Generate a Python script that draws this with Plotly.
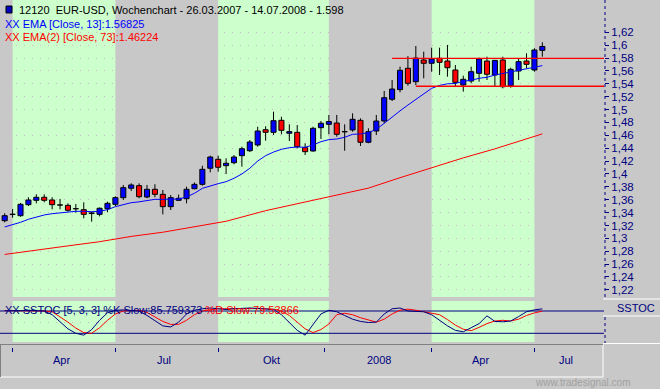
import plotly.graph_objects as go

# ---------------- data ----------------
opens = [1.3274, 1.3370, 1.3352, 1.3523, 1.3591, 1.3638, 1.3596, 1.3520, 1.3513, 1.3462,
         1.3445, 1.3395, 1.3373, 1.3460, 1.3529, 1.3632, 1.3778, 1.3818, 1.3642, 1.3762,
         1.3684, 1.3492, 1.3591, 1.3616, 1.3771, 1.3839, 1.4089, 1.4228, 1.4129, 1.4175,
         1.4284, 1.4361, 1.4450, 1.4687, 1.4647, 1.4833, 1.4632, 1.4647, 1.4408, 1.4357,
         1.4719, 1.4771, 1.4791, 1.4658, 1.4683, 1.4833, 1.4492, 1.4667, 1.4822, 1.5160,
         1.5310, 1.5641, 1.5433, 1.5770, 1.5719, 1.5796, 1.5754, 1.5615, 1.5382, 1.5444,
         1.5563, 1.5754, 1.5537, 1.5770, 1.5371, 1.5599, 1.5754, 1.5615, 1.5920]
highs = [1.3389, 1.3456, 1.3549, 1.3638, 1.3684, 1.3684, 1.3638, 1.3612, 1.3544, 1.3533,
         1.3560, 1.3414, 1.3480, 1.3570, 1.3653, 1.3829, 1.3855, 1.3855, 1.3829, 1.3840,
         1.3751, 1.3673, 1.3680, 1.3802, 1.3868, 1.4128, 1.4284, 1.4284, 1.4243, 1.4294,
         1.4423, 1.4527, 1.4734, 1.4740, 1.4967, 1.4889, 1.4771, 1.4760, 1.4476, 1.4734,
         1.4822, 1.4916, 1.4916, 1.4771, 1.4942, 1.4864, 1.4709, 1.4916, 1.5289, 1.5459,
         1.5666, 1.5830, 1.5987, 1.5899, 1.5961, 1.5961, 1.6003, 1.5692, 1.5526, 1.5666,
         1.5806, 1.5821, 1.5770, 1.5821, 1.5650, 1.5796, 1.5874, 1.5952, 1.6045]
lows = [1.3249, 1.3321, 1.3336, 1.3502, 1.3544, 1.3560, 1.3451, 1.3451, 1.3414, 1.3398,
        1.3311, 1.3259, 1.3342, 1.3405, 1.3498, 1.3596, 1.3735, 1.3622, 1.3622, 1.3638,
        1.3373, 1.3440, 1.3580, 1.3544, 1.3762, 1.3818, 1.4026, 1.4035, 1.3999, 1.4150,
        1.4113, 1.4340, 1.4423, 1.4517, 1.4605, 1.4616, 1.4512, 1.4398, 1.4294, 1.4346,
        1.4543, 1.4616, 1.4579, 1.4361, 1.4656, 1.4434, 1.4477, 1.4605, 1.4787, 1.5133,
        1.5268, 1.5370, 1.5380, 1.5486, 1.5588, 1.5537, 1.5510, 1.5355, 1.5278, 1.5408,
        1.5433, 1.5459, 1.5355, 1.5330, 1.5340, 1.5459, 1.5641, 1.5588, 1.5821]
closes = [1.3352, 1.3376, 1.3529, 1.3596, 1.3638, 1.3591, 1.3523, 1.3516, 1.3436, 1.3458,
          1.3373, 1.3385, 1.3467, 1.3544, 1.3632, 1.3787, 1.3829, 1.3647, 1.3762, 1.3684,
          1.3492, 1.3632, 1.3622, 1.3762, 1.3839, 1.4072, 1.4263, 1.4104, 1.4166, 1.4263,
          1.4392, 1.4496, 1.4667, 1.4647, 1.4827, 1.4678, 1.4657, 1.4424, 1.4346, 1.4709,
          1.4787, 1.4814, 1.4616, 1.4654, 1.4849, 1.4492, 1.4656, 1.4822, 1.5184, 1.5319,
          1.5610, 1.5408, 1.5800, 1.5719, 1.5786, 1.5734, 1.5650, 1.5423, 1.5470, 1.5588,
          1.5786, 1.5548, 1.5764, 1.5355, 1.5625, 1.5744, 1.5703, 1.5925, 1.5980]

ema13 = [1.3177, 1.3207, 1.3249, 1.3296, 1.3332, 1.3363, 1.3383, 1.3398, 1.3414, 1.3420,
         1.3420, 1.3414, 1.3420, 1.3445, 1.3492, 1.3518, 1.3554, 1.3567, 1.3585, 1.3606,
         1.3606, 1.3611, 1.3611, 1.3642, 1.3700, 1.3777, 1.3818, 1.3849, 1.3880, 1.3933,
         1.4000, 1.4088, 1.4201, 1.4284, 1.4340, 1.4383, 1.4408, 1.4419, 1.4414, 1.4450,
         1.4501, 1.4533, 1.4543, 1.4569, 1.4616, 1.4621, 1.4641, 1.4694, 1.4786, 1.4890,
         1.4980, 1.5070, 1.5160, 1.5250, 1.5330, 1.5375, 1.5400, 1.5405, 1.5440, 1.5455,
         1.5486, 1.5501, 1.5537, 1.5560, 1.5583, 1.5604, 1.5625, 1.5650, 1.56825]

ema73_idx = [0, 4, 8, 12, 16, 20, 24, 28, 33, 37, 42, 46, 50, 54, 58, 62, 66, 68]
ema73 = [1.2750, 1.2812, 1.2883, 1.2948, 1.3030, 1.3095, 1.3180, 1.3265, 1.3430, 1.3540,
         1.3680, 1.3780, 1.3942, 1.4100, 1.4250, 1.4390, 1.4550, 1.46224]

stoch_k = [81, 80, 81, 82, 81, 80, 70, 50, 32, 20, 15, 30, 55, 75, 82, 83, 82, 80, 68, 55,
           40, 37, 50, 72, 82, 86, 88, 86, 84, 86, 88, 88, 87, 85, 84, 70, 50, 28, 15, 45,
           72, 82, 78, 68, 58, 52, 49, 50, 72, 86, 88, 80, 78, 78, 70, 55, 40, 28, 24, 35,
           46, 67, 52, 51, 53, 65, 78, 83, 85.759373]
stoch_d = [81, 81, 80, 81, 81, 80, 78, 65, 50, 34, 22, 20, 35, 55, 72, 80, 82, 82, 76, 65,
           52, 44, 44, 55, 70, 80, 84, 86, 86, 85, 86, 87, 87, 86, 85, 80, 68, 50, 32, 22,
           30, 45, 70, 74, 70, 62, 55, 50, 58, 72, 82, 85, 82, 78, 75, 70, 57, 42, 31, 27,
           36, 46, 53, 55, 53, 58, 68, 75, 79.53866]
stoch_levels = [80, 20]

# horizontal resistance / support lines drawn on the chart
hline_levels = [1.5795, 1.5362]
hline_starts = [49, 52]

# quarter shading (candle index ranges)
band_starts = [1, 27, 54]
band_ends = [14, 41, 67]

# x-axis ticks and labels (candle index units)
x_tick_pos = [1, 14, 27, 40.5, 54, 67]
x_label_pos = [7.2, 20.2, 33.8, 47.3, 60.2, 71.0]
x_label_text = ["Apr", "Jul", "Okt", "2008", "Apr", "Jul"]

y_tick_vals = [1.22, 1.24, 1.26, 1.28, 1.30, 1.32, 1.34, 1.36, 1.38, 1.40, 1.42,
               1.44, 1.46, 1.48, 1.50, 1.52, 1.54, 1.56, 1.58, 1.60, 1.62]
y_tick_text = ["1,22", "1,24", "1,26", "1,28", "1,3", "1,32", "1,34", "1,36", "1,38", "1,4",
               "1,42", "1,44", "1,46", "1,48", "1,5", "1,52", "1,54", "1,56", "1,58", "1,6", "1,62"]

title_text = "12120  EUR-USD, Wochenchart - 26.03.2007 - 14.07.2008 - 1.598"
ema13_label = "XX EMA [Close, 13]:1.56825"
ema73_label = "XX EMA(2) [Close, 73]:1.46224"
stoch_label_k = "XX SSTOC [5, 3, 3] %K Slow:85.759373 "
stoch_label_d = "%D Slow:79.53866"

# ---------------- styling / geometry ----------------
W, H = 660, 389
PW, PH = 604, 347          # plot area in px (margin l=0, t=0)
BG = "#c8c8c8"
GREEN = "#ccffcc"
NAVY = "#000080"
FONT = "Liberation Sans, Arial, sans-serif"
X_RANGE = [-0.594, 75.80]


def fx(x):
    return x / PW


def fy(y):
    return (PH - y) / PH


n = len(closes)
idx = list(range(n))

# candle bodies & wicks
body_base = [min(o, c) for o, c in zip(opens, closes)]
body_h = [abs(c - o) for o, c in zip(opens, closes)]
body_col = ["#0000ff" if c >= o else "#ff0000" for o, c in zip(opens, closes)]
wx, wy = [], []
for i in idx:
    top = max(opens[i], closes[i])
    bot = min(opens[i], closes[i])
    wx += [i, i, None, i, i, None]
    wy += [highs[i], top, None, bot, lows[i], None]

fig = go.Figure()
fig.add_trace(go.Scatter(x=wx, y=wy, mode="lines", line=dict(color="black", width=1),
                         xaxis="x", yaxis="y", hoverinfo="skip"))
fig.add_trace(go.Bar(x=idx, y=body_h, base=body_base, width=0.64,
                     marker=dict(color=body_col, line=dict(color="black", width=1)),
                     xaxis="x", yaxis="y"))
fig.add_trace(go.Scatter(x=idx, y=ema13, mode="lines", line=dict(color="#0000ff", width=1),
                         xaxis="x", yaxis="y"))
fig.add_trace(go.Scatter(x=ema73_idx, y=ema73, mode="lines", line=dict(color="#ff0000", width=1),
                         xaxis="x", yaxis="y"))
for lvl, st in zip(hline_levels, hline_starts):
    fig.add_trace(go.Scatter(x=[st, X_RANGE[1]], y=[lvl, lvl], mode="lines",
                             line=dict(color="#ff0000", width=1.3), xaxis="x", yaxis="y"))

# stochastic
for lvl in stoch_levels:
    fig.add_trace(go.Scatter(x=[X_RANGE[0], X_RANGE[1]], y=[lvl, lvl], mode="lines",
                             line=dict(color=NAVY, width=1), xaxis="x2", yaxis="y2"))
fig.add_trace(go.Scatter(x=idx, y=stoch_d, mode="lines", line=dict(color="#ff0000", width=1),
                         xaxis="x2", yaxis="y2"))
fig.add_trace(go.Scatter(x=idx, y=stoch_k, mode="lines", line=dict(color=NAVY, width=1),
                         xaxis="x2", yaxis="y2"))

shapes = []
for b0, b1 in zip(band_starts, band_ends):
    for yr in ("y domain", "y2 domain"):
        xr = "x" if yr.startswith("y ") else "x2"
        shapes.append(dict(type="rect", xref=xr, yref=yr, x0=b0, x1=b1, y0=0, y1=1,
                           fillcolor=GREEN, line=dict(width=0), layer="below"))

# right axis dotted lines
shapes.append(dict(type="line", xref="paper", yref="paper", x0=fx(605), x1=fx(605),
                   y0=fy(0), y1=fy(297), line=dict(color=NAVY, width=1, dash="dot")))
shapes.append(dict(type="line", xref="paper", yref="paper", x0=fx(605), x1=fx(605),
                   y0=fy(317), y1=fy(343), line=dict(color=NAVY, width=1, dash="dot")))
# SSTOC box + frame lines
for (x0, y0, x1, y1, col) in [
    (603, 299, 660, 299, "white"),
    (603, 316, 660, 316, "white"),
    (603, 343.5, 660, 343.5, "white"),
    (603, 344, 603, 377, "white"),
    (0, 377, 603, 377, "white"),
    (0, 344.5, 603, 344.5, "#808080"),
    (0.5, 344, 0.5, 377, "#808080"),
]:
    shapes.append(dict(type="line", xref="paper", yref="paper", x0=fx(x0), x1=fx(x1),
                       y0=fy(y0), y1=fy(y1), line=dict(color=col, width=1)))
# small title icon
shapes.append(dict(type="rect", xref="paper", yref="paper", x0=fx(6), x1=fx(12),
                   y0=fy(13), y1=fy(6), fillcolor="#0000c0", line=dict(color="black", width=1)))

ann = []
ann.append(dict(text=title_text, x=fx(17), y=fy(10), xref="paper", yref="paper",
                xanchor="left", yanchor="middle", showarrow=False,
                font=dict(family=FONT, size=11, color="black")))
ann.append(dict(text=ema13_label, x=fx(3), y=fy(24), xref="paper", yref="paper",
                xanchor="left", yanchor="middle", showarrow=False,
                font=dict(family=FONT, size=11, color="#0000ff")))
ann.append(dict(text=ema73_label, x=fx(3), y=fy(37), xref="paper", yref="paper",
                xanchor="left", yanchor="middle", showarrow=False,
                font=dict(family=FONT, size=11, color="#ff0000")))
ann.append(dict(text=f"<span style='color:{NAVY}'>{stoch_label_k}</span>"
                     f"<span style='color:#ff0000'>{stoch_label_d}</span>",
                x=fx(3), y=fy(310), xref="paper", yref="paper",
                xanchor="left", yanchor="middle", showarrow=False,
                font=dict(family=FONT, size=11, color=NAVY)))
ann.append(dict(text="SSTOC", x=fx(657), y=fy(308), xref="paper", yref="paper",
                xanchor="right", yanchor="middle", showarrow=False,
                font=dict(family=FONT, size=11, color=NAVY)))
ann.append(dict(text="www.tradesignal.com", x=fx(582), y=fy(382), xref="paper", yref="paper",
                xanchor="center", yanchor="middle", showarrow=False,
                font=dict(family=FONT, size=10, color="#a0a0a0")))
for xp, t in zip(x_label_pos, x_label_text):
    ann.append(dict(text=t, x=xp, y=fy(360), xref="x2", yref="paper",
                    xanchor="center", yanchor="middle", showarrow=False,
                    font=dict(family=FONT, size=11, color=NAVY)))

fig.update_layout(
    width=W, height=H,
    margin=dict(l=0, r=W - PW, t=0, b=H - PH, pad=0),
    paper_bgcolor=BG, plot_bgcolor=BG,
    showlegend=False,
    bargap=0,
    shapes=shapes,
    annotations=ann,
    xaxis=dict(domain=[0, 1], range=X_RANGE, anchor="y", showticklabels=False, ticks="",
               showgrid=False, zeroline=False, showline=False),
    xaxis2=dict(domain=[0, 1], range=X_RANGE, matches="x", anchor="free", position=0,
                ticks="outside", ticklen=4, tickwidth=1, tickcolor=NAVY,
                tickvals=x_tick_pos, showticklabels=False,
                showgrid=False, zeroline=False, showline=False),
    yaxis=dict(domain=[fy(297), 1], range=[1.20892, 1.67016], anchor="x", side="right",
               tickvals=y_tick_vals, ticktext=y_tick_text, ticks="outside", ticklen=4,
               tickcolor=NAVY, tickfont=dict(family=FONT, size=11.5, color=NAVY),
               showgrid=True, gridcolor="#c8b8c8", griddash="1px,7px", gridwidth=1,
               zeroline=False, showline=False),
    yaxis2=dict(domain=[fy(342), fy(301)], range=[-3.41, 106.9], anchor="x2", side="right",
                tickvals=[50], showticklabels=False, ticks="",
                showgrid=True, gridcolor="#c8b8c8", griddash="1px,7px", gridwidth=1,
                zeroline=False, showline=False),
)

fig.write_html("out.html",
               config={"displayModeBar": False, "staticPlot": True},
               post_script="document.body.style.margin='0';document.body.style.padding='0';"
                           "document.body.style.background='" + BG + "';")
